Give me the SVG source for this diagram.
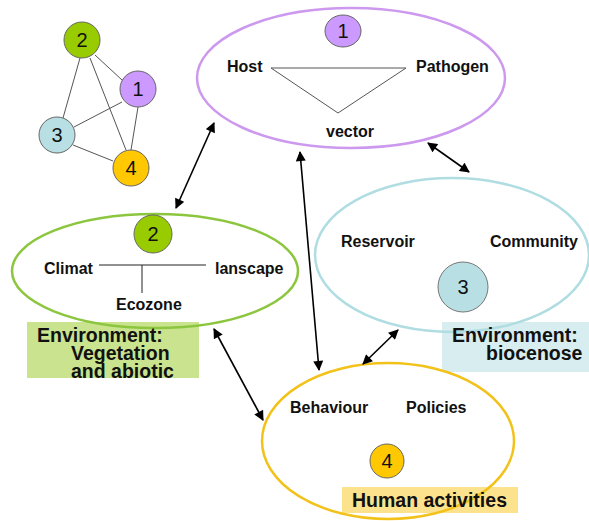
<svg xmlns="http://www.w3.org/2000/svg" width="589" height="521" viewBox="0 0 589 521">
<defs>
<style>
.lbl{font-family:"Liberation Sans",Arial,sans-serif;font-weight:bold;font-size:16px;fill:#111}
.big{font-family:"Liberation Sans",Arial,sans-serif;font-weight:bold;font-size:19.5px;fill:#111}
.num{font-family:"Liberation Sans",Arial,sans-serif;font-size:20px;fill:#111;text-anchor:middle}
.edge{stroke:#555;stroke-width:1;fill:none}
.arr{stroke:#000;stroke-width:1.6;fill:none;marker-start:url(#ah);marker-end:url(#ah)}
.ell{fill:none;stroke-width:2.5}
</style>
<marker id="ah" viewBox="0 0 10 10" refX="9" refY="5" markerWidth="11" markerHeight="10" markerUnits="userSpaceOnUse" orient="auto-start-reverse">
<path d="M0,0 L10,5 L0,10 z" fill="#000"/>
</marker>
</defs>
<rect width="589" height="521" fill="#fff"/>

<g id="mini-graph">
<g class="edge">
<line x1="80" y1="58" x2="63" y2="118"/>
<line x1="95" y1="55" x2="122" y2="80"/>
<line x1="90" y1="58" x2="126" y2="150"/>
<line x1="122" y1="102" x2="74" y2="127"/>
<line x1="138" y1="107" x2="131" y2="150"/>
<line x1="73" y1="145" x2="113" y2="161"/>
</g>
<g id="mini-2"><circle cx="82" cy="40" r="18" fill="#99cc00" stroke="#666"/><text class="num" x="82" y="47">2</text></g>
<g id="mini-1"><circle cx="138" cy="89" r="18" fill="#cc99ff" stroke="#666"/><text class="num" x="138" y="96">1</text></g>
<g id="mini-3"><circle cx="57" cy="135" r="18" fill="#b8dfe3" stroke="#666"/><text class="num" x="57" y="142">3</text></g>
<g id="mini-4"><circle cx="131" cy="168" r="18" fill="#ffc800" stroke="#666"/><text class="num" x="131" y="175">4</text></g>
</g>

<g id="label-boxes">
<rect x="27" y="322" width="172" height="56" fill="#c9e38e"/>
<rect x="442" y="322" width="147" height="50" fill="#d7edf0"/>
<rect x="342" y="487" width="176" height="26" fill="#fde28d"/>
</g>

<g id="node1">
<ellipse class="ell" cx="351" cy="78" rx="154" ry="70" stroke="#cc99ee"/>
<ellipse cx="343" cy="31" rx="18" ry="16" fill="#cc99ff" stroke="#666"/>
<text class="num" x="343" y="38">1</text>
<polygon points="271,68 406,68 338,113" fill="none" stroke="#555" stroke-width="1"/>
<text class="lbl" x="227" y="72">Host</text>
<text class="lbl" x="416" y="72">Pathogen</text>
<text class="lbl" x="326" y="137">vector</text>
</g>

<g id="node2">
<ellipse class="ell" cx="155" cy="271" rx="143" ry="57" stroke="#8cc63f"/>
<circle cx="153" cy="234" r="19" fill="#99cc00" stroke="#666"/>
<text class="num" x="153" y="241">2</text>
<line x1="99" y1="265" x2="206" y2="265" stroke="#222" stroke-width="1"/>
<line x1="142" y1="265" x2="142" y2="293" stroke="#222" stroke-width="1"/>
<text class="lbl" x="44" y="274">Climat</text>
<text class="lbl" x="215" y="274">lanscape</text>
<text class="lbl" x="116" y="310">Ecozone</text>
<text class="big" x="37" y="342">Environment:</text>
<text class="big" x="71" y="360">Vegetation</text>
<text class="big" x="71" y="378">and abiotic</text>
</g>

<g id="node3">
<ellipse class="ell" cx="452" cy="255" rx="137" ry="77" stroke="#b0dde2"/>
<circle cx="463" cy="287" r="25" fill="#b8dfe3" stroke="#777"/>
<text class="num" x="463" y="294">3</text>
<text class="lbl" x="341" y="247">Reservoir</text>
<text class="lbl" x="490" y="247">Community</text>
<text class="big" x="452" y="342">Environment:</text>
<text class="big" x="486" y="360">biocenose</text>
</g>

<g id="node4">
<ellipse class="ell" cx="388" cy="441" rx="126" ry="78" stroke="#f2c21a"/>
<circle cx="387" cy="461" r="17" fill="#ffc800" stroke="#666"/>
<text class="num" x="387" y="468">4</text>
<text class="lbl" x="290" y="413">Behaviour</text>
<text class="lbl" x="406" y="413">Policies</text>
<text class="big" x="352" y="507">Human activities</text>
</g>

<g id="connectors">
<line class="arr" x1="214" y1="123" x2="176" y2="208"/>
<line class="arr" x1="300" y1="152" x2="319" y2="370"/>
<line class="arr" x1="428" y1="143" x2="469" y2="172"/>
<line class="arr" x1="398" y1="330" x2="363" y2="364"/>
<line class="arr" x1="214" y1="329" x2="263" y2="420"/>
</g>
</svg>
